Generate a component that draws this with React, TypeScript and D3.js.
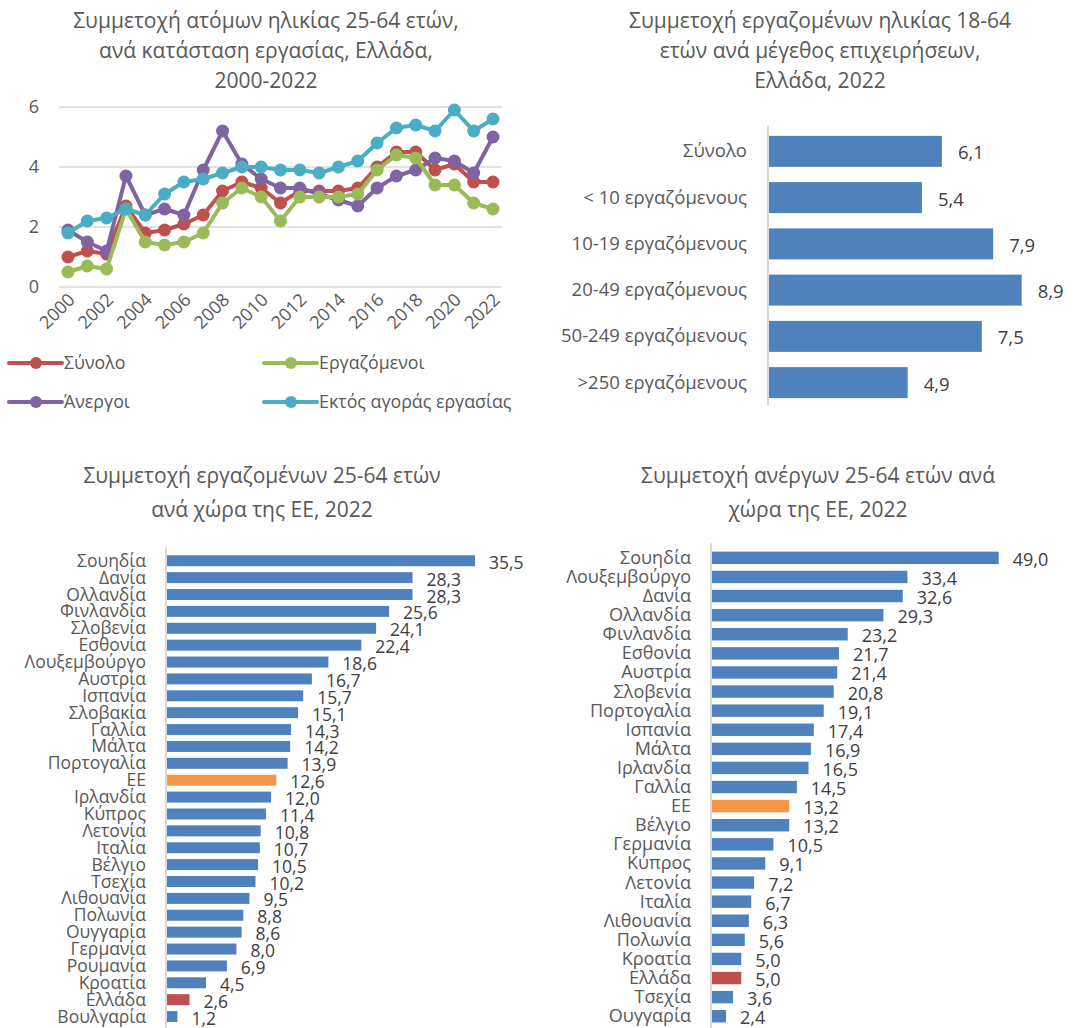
import * as d3 from "d3";

// ---- data ----
const years = d3.range(2000, 2023);
const synolo = [1.0, 1.2, 1.1, 2.7, 1.8, 1.9, 2.1, 2.4, 3.2, 3.5, 3.3, 2.8, 3.2, 3.2, 3.2, 3.3, 4.0, 4.5, 4.5, 3.9, 4.1, 3.5, 3.5];
const ergazomenoi = [0.5, 0.7, 0.6, 2.6, 1.5, 1.4, 1.5, 1.8, 2.8, 3.3, 3.0, 2.2, 3.0, 3.0, 3.0, 3.1, 3.9, 4.4, 4.3, 3.4, 3.4, 2.8, 2.6];
const anergoi = [1.9, 1.5, 1.2, 3.7, 2.4, 2.6, 2.4, 3.9, 5.2, 4.1, 3.6, 3.3, 3.3, 3.1, 2.9, 2.7, 3.3, 3.7, 3.9, 4.3, 4.2, 3.8, 5.0];
const ektos = [1.8, 2.2, 2.3, 2.6, 2.4, 3.1, 3.5, 3.6, 3.8, 4.0, 4.0, 3.9, 3.9, 3.8, 4.0, 4.2, 4.8, 5.3, 5.4, 5.2, 5.9, 5.2, 5.6];
const yTicks = [0, 2, 4, 6];

const sizeCats = ["Σύνολο", "< 10 εργαζόμενους", "10-19 εργαζόμενους", "20-49 εργαζόμενους", "50-249 εργαζόμενους", ">250 εργαζόμενους"];
const sizeVals = [6.1, 5.4, 7.9, 8.9, 7.5, 4.9];

const empCountries = ["Σουηδία", "Δανία", "Ολλανδία", "Φινλανδία", "Σλοβενία", "Εσθονία", "Λουξεμβούργο", "Αυστρία", "Ισπανία", "Σλοβακία", "Γαλλία", "Μάλτα", "Πορτογαλία", "ΕΕ", "Ιρλανδία", "Κύπρος", "Λετονία", "Ιταλία", "Βέλγιο", "Τσεχία", "Λιθουανία", "Πολωνία", "Ουγγαρία", "Γερμανία", "Ρουμανία", "Κροατία", "Ελλάδα", "Βουλγαρία"];
const empVals = [35.5, 28.3, 28.3, 25.6, 24.1, 22.4, 18.6, 16.7, 15.7, 15.1, 14.3, 14.2, 13.9, 12.6, 12.0, 11.4, 10.8, 10.7, 10.5, 10.2, 9.5, 8.8, 8.6, 8.0, 6.9, 4.5, 2.6, 1.2];

const unCountries = ["Σουηδία", "Λουξεμβούργο", "Δανία", "Ολλανδία", "Φινλανδία", "Εσθονία", "Αυστρία", "Σλοβενία", "Πορτογαλία", "Ισπανία", "Μάλτα", "Ιρλανδία", "Γαλλία", "ΕΕ", "Βέλγιο", "Γερμανία", "Κύπρος", "Λετονία", "Ιταλία", "Λιθουανία", "Πολωνία", "Κροατία", "Ελλάδα", "Τσεχία", "Ουγγαρία"];
const unVals = [49.0, 33.4, 32.6, 29.3, 23.2, 21.7, 21.4, 20.8, 19.1, 17.4, 16.9, 16.5, 14.5, 13.2, 13.2, 10.5, 9.1, 7.2, 6.7, 6.3, 5.6, 5.0, 5.0, 3.6, 2.4];

const series = [
  { name: "Σύνολο", values: synolo, color: "#C0504D" },
  { name: "Άνεργοι", values: anergoi, color: "#8064A2" },
  { name: "Εργαζόμενοι", values: ergazomenoi, color: "#9BBB59" },
  { name: "Εκτός αγοράς εργασίας", values: ektos, color: "#4BACC6" },
];
const legendOrder = ["Σύνολο", "Εργαζόμενοι", "Άνεργοι", "Εκτός αγοράς εργασίας"];

const FONT = "'Open Sans', 'Noto Sans', sans-serif";
const GREY = "#595959";
const DARK = "#404040";
const BLUE = "#4F81BD";

const barColor = (c: string) => (c === "ΕΕ" ? "#F79646" : c === "Ελλάδα" ? "#C0504D" : BLUE);
const fmt = (v: number) => v.toFixed(1).replace(".", ",");

const Title = ({ lines, cx, y0, dy }: { lines: string[]; cx: number; y0: number; dy: number }) => (
  <text textAnchor="middle" fontSize={21} fill={GREY} fontFamily={FONT}>
    {lines.map((l, i) => (
      <tspan key={i} x={cx} y={y0 + i * dy}>
        {l}
      </tspan>
    ))}
  </text>
);

const LineChart = () => {
  const x = d3.scaleLinear().domain([2000, 2022]).range([68, 493]);
  const y = d3.scaleLinear().domain([0, 6]).range([287, 107]);
  const line = d3
    .line<number>()
    .x((_, i) => x(years[i]))
    .y((d) => y(d));
  return (
    <g>
      <Title lines={["Συμμετοχή ατόμων ηλικίας 25-64 ετών,", "ανά κατάσταση εργασίας, Ελλάδα,", "2000-2022"]} cx={266} y0={28} dy={30} />
      {yTicks.map((t) => (
        <g key={t}>
          <line x1={59} x2={502} y1={y(t)} y2={y(t)} stroke="#d9d9d9" strokeWidth={1.5} />
          <text x={39} y={y(t) + 6} textAnchor="end" fontSize={18} fill={GREY} fontFamily={FONT}>
            {t}
          </text>
        </g>
      ))}
      {years
        .filter((yr) => yr % 2 === 0)
        .map((yr) => (
          <text
            key={yr}
            transform={`translate(${x(yr) + 8},${301}) rotate(-45)`}
            textAnchor="end"
            fontSize={18}
            fill={GREY}
            fontFamily={FONT}
          >
            {yr}
          </text>
        ))}
      {series.map((s) => (
        <g key={s.name}>
          <path d={line(s.values) || ""} fill="none" stroke={s.color} strokeWidth={4} strokeLinejoin="round" />
          {s.values.map((v, i) => (
            <circle key={i} cx={x(years[i])} cy={y(v)} r={6.5} fill={s.color} />
          ))}
        </g>
      ))}
      {legendOrder.map((name, i) => {
        const s = series.find((d) => d.name === name)!;
        const lx = i % 2 === 0 ? 9 : 264;
        const ly = i < 2 ? 363 : 402;
        return (
          <g key={name}>
            <line x1={lx} x2={lx + 53} y1={ly} y2={ly} stroke={s.color} strokeWidth={4} strokeLinecap="round" />
            <circle cx={lx + 27} cy={ly} r={6} fill={s.color} />
            <text x={lx + 55} y={ly + 6} fontSize={17.8} fill={GREY} fontFamily={FONT}>
              {name}
            </text>
          </g>
        );
      })}
    </g>
  );
};

const SizeChart = () => {
  const x0 = 768;
  const x = d3.scaleLinear().domain([0, 8.9]).range([x0, 1021.7]);
  const y = d3.scaleBand<string>().domain(sizeCats).range([128, 406]).paddingInner(0.33).paddingOuter(0.17);
  return (
    <g>
      <Title lines={["Συμμετοχή εργαζομένων ηλικίας 18-64", "ετών ανά μέγεθος επιχειρήσεων,", "Ελλάδα, 2022"]} cx={820} y0={28} dy={30} />
      {sizeCats.map((c, i) => (
        <g key={c}>
          <rect x={x0} y={y(c)} width={x(sizeVals[i]) - x0} height={y.bandwidth()} fill={BLUE} />
          <text x={747} y={y(c)! + y.bandwidth() / 2 + 6} textAnchor="end" fontSize={18.5} fill={GREY} fontFamily={FONT}>
            {c}
          </text>
          <text x={x(sizeVals[i]) + 16} y={y(c)! + y.bandwidth() / 2 + 8} fontSize={18.5} fill={DARK} fontFamily={FONT}>
            {fmt(sizeVals[i])}
          </text>
        </g>
      ))}
      <line x1={x0} x2={x0} y1={126} y2={406} stroke="#d9d9d9" strokeWidth={2} />
    </g>
  );
};

const CountryChart = ({
  title,
  cx,
  cats,
  vals,
  x0,
  xMaxPx,
  y0,
  y1,
  labelX,
  fs,
}: {
  title: string[];
  cx: number;
  cats: string[];
  vals: number[];
  x0: number;
  xMaxPx: number;
  y0: number;
  y1: number;
  labelX: number;
  fs: number;
}) => {
  const x = d3.scaleLinear().domain([0, d3.max(vals)!]).range([x0, xMaxPx]);
  const y = d3.scaleBand<string>().domain(cats.map((c, i) => i + c)).range([y0, y1]).paddingInner(0.35).paddingOuter(0.175);
  return (
    <g>
      <Title lines={title} cx={cx} y0={483} dy={34} />
      {cats.map((c, i) => {
        const yy = y(i + c)!;
        return (
          <g key={i}>
            <rect x={x0 + 1} y={yy} width={x(vals[i]) - x0} height={y.bandwidth()} fill={barColor(c)} />
            <text x={labelX} y={yy + y.bandwidth() / 2 + 6} textAnchor="end" fontSize={fs} fill={GREY} fontFamily={FONT}>
              {c}
            </text>
            <text x={x(vals[i]) + 15} y={yy + y.bandwidth() / 2 + 8} fontSize={fs} fill={DARK} fontFamily={FONT}>
              {fmt(vals[i])}
            </text>
          </g>
        );
      })}
      <line x1={x0} x2={x0} y1={y0 - 5} y2={1028} stroke="#d9d9d9" strokeWidth={2} />
    </g>
  );
};

export default function App() {
  return (
    <svg width={1075} height={1028} style={{ position: "absolute", left: 0, top: 0, background: "#fff" }}>
      <rect width={1075} height={1028} fill="#fff" />
      <LineChart />
      <SizeChart />
      <CountryChart
        title={["Συμμετοχή εργαζομένων 25-64 ετών", "ανά χώρα της ΕΕ, 2022"]}
        cx={262}
        cats={empCountries}
        vals={empVals}
        x0={166}
        xMaxPx={474}
        y0={552.3}
        y1={1025}
        labelX={146}
        fs={17.5}
      />
      <CountryChart
        title={["Συμμετοχή ανέργων 25-64 ετών ανά", "χώρα της ΕΕ, 2022"]}
        cx={818}
        cats={unCountries}
        vals={unVals}
        x0={711}
        xMaxPx={997.7}
        y0={548.3}
        y1={1025.8}
        labelX={691}
        fs={18}
      />
    </svg>
  );
}
